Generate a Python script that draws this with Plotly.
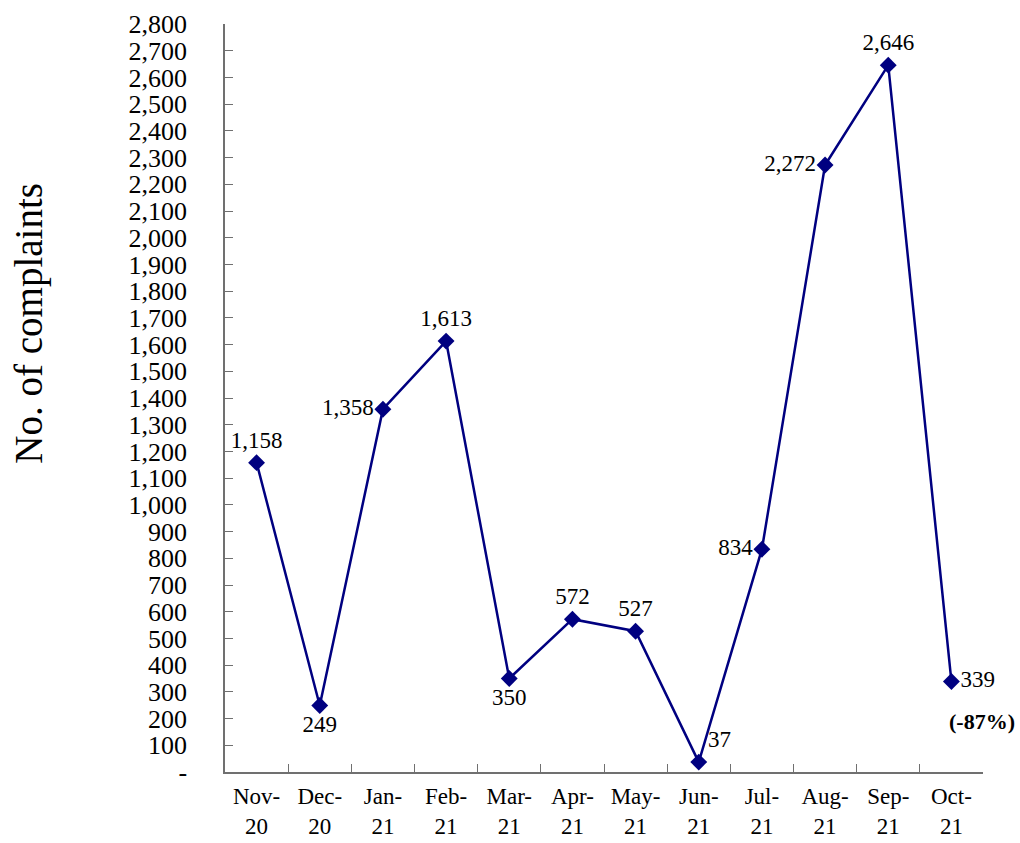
import plotly.graph_objects as go

months = ["Nov-<br>20", "Dec-<br>20", "Jan-<br>21", "Feb-<br>21", "Mar-<br>21", "Apr-<br>21",
          "May-<br>21", "Jun-<br>21", "Jul-<br>21", "Aug-<br>21", "Sep-<br>21", "Oct-<br>21"]
complaints = [1158, 249, 1358, 1613, 350, 572, 527, 37, 834, 2272, 2646, 339]
label_pos = ["top center", "bottom center", "middle left", "top center", "bottom center", "top center",
             "top center", "top right", "middle left", "middle left", "top center", "middle right"]
y_tickvals = list(range(0, 2801, 100))
y_ticktext = ["-"] + [f"{v:,}" for v in y_tickvals[1:]]
change_note = "(-87%)"

FONT = "Liberation Serif, Times New Roman, serif"
NAVY = "#000080"

fig = go.Figure()
fig.add_trace(go.Scatter(
    x=months, y=complaints, mode="lines+markers+text",
    line=dict(color=NAVY, width=2.5),
    marker=dict(symbol="diamond", size=13, color=NAVY),
    text=[f"{v:,}" for v in complaints],
    textposition=label_pos,
    textfont=dict(family=FONT, size=23, color="black"),
    cliponaxis=False,
    showlegend=False,
))

fig.add_annotation(x=months[-1], y=complaints[-1], text=f"<b>{change_note}</b>",
                   showarrow=False, xanchor="center", yanchor="middle",
                   xshift=31, yshift=-40,
                   font=dict(family=FONT, size=22, color="black"))

fig.add_annotation(xref="paper", yref="paper", x=-0.258, y=0.60,
                   text="No. of complaints", textangle=-90, showarrow=False,
                   xanchor="center", yanchor="middle",
                   font=dict(family=FONT, size=39, color="black"))

fig.update_layout(
    width=1020, height=843,
    margin=dict(l=225, r=37, t=24, b=71, autoexpand=False),
    plot_bgcolor="white", paper_bgcolor="white",
    font=dict(family=FONT, color="black"),
)
fig.update_yaxes(
    range=[0, 2800], tickvals=y_tickvals, ticktext=y_ticktext,
    showgrid=False, zeroline=False, automargin=False,
    showline=True, linecolor="#707070", linewidth=1.5,
    ticks="inside", ticklen=8, tickcolor="#707070", tickwidth=1.2,
    tickfont=dict(family=FONT, size=26, color="black"),
    ticklabelstandoff=31,
)
fig.update_xaxes(
    type="category", range=[-0.5, 11.5], showgrid=False, zeroline=False, automargin=False,
    showline=True, linecolor="#707070", linewidth=1.5,
    ticks="inside", ticklen=8, tickcolor="#707070", tickwidth=1.2,
    tickson="boundaries", tickangle=0,
    tickfont=dict(family=FONT, size=23, color="black"),
    ticklabelstandoff=3,
)

fig.write_html("out.html")
